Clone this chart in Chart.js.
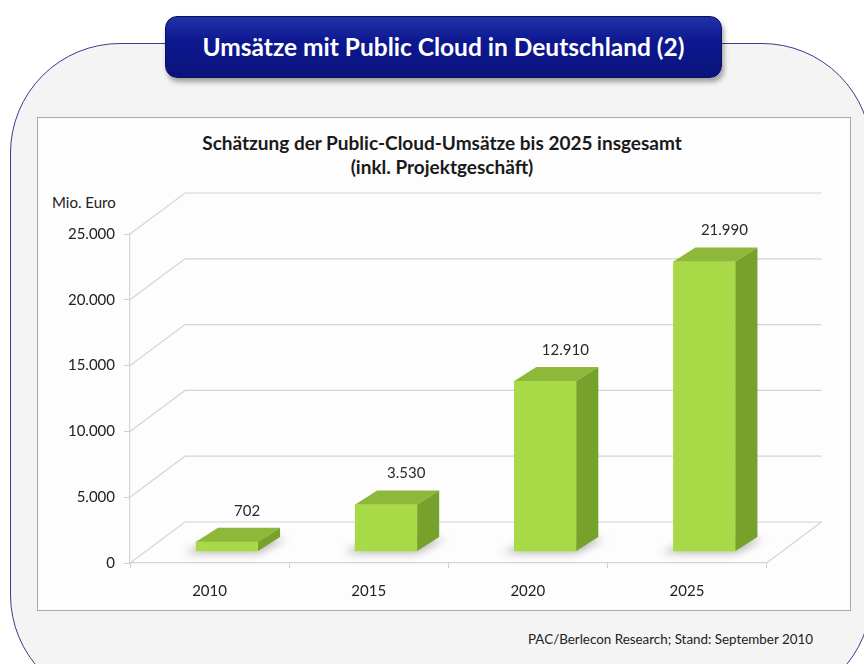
<!DOCTYPE html>
<html>
<head>
<meta charset="utf-8">
<script src="https://cdn.jsdelivr.net/npm/chart.js@4"></script>
<style>
  html, body { margin: 0; padding: 0; background: #fff; }
  body { width: 864px; height: 664px; position: relative; overflow: hidden; font-family: Lato, "Noto Sans", sans-serif; }
  .frame {
    position: absolute; left: 10px; top: 43px; width: 860px; height: 660px;
    border: 1.5px solid #3b3b88; border-radius: 110px; background: #f4f4f4;
  }
  .banner {
    position: absolute; left: 165px; top: 16px; width: 555px; height: 60px;
    border-radius: 12px; background: linear-gradient(#2232a6, #0d1890 40%, #0a137c);
    box-shadow: 2px 4px 5px rgba(0,0,0,0.35); border: 1px solid #0a1060;
    color: #fff; font-weight: bold; font-size: 24.5px; line-height: 60px; text-align: center;
  }
  .panel {
    position: absolute; left: 38px; top: 118px; width: 812px; height: 492px;
    background: #fdfdfd; box-shadow: 0 0 0 1px #a9a9a9;
  }
  .ctitle {
    position: absolute; left: 38px; top: 131px; width: 808px; text-align: center;
    font-weight: bold; font-size: 19px; line-height: 24px; color: #1a1a1a;
  }
  .unit { position: absolute; left: 52px; top: 193px; font-size: 15px; color: #222; }
  .source { position: absolute; left: 528px; top: 631px; font-size: 13.4px; color: #222; }
  canvas { position: absolute; left: 38px; top: 118px; }
</style>
</head>
<body>
<div class="frame"></div>
<div class="banner">Umsätze mit Public Cloud in Deutschland (2)</div>
<div class="panel"></div>
<div class="ctitle">Schätzung der Public-Cloud-Umsätze bis 2025 insgesamt<br>(inkl. Projektgeschäft)</div>
<div class="unit">Mio. Euro</div>
<div class="source">PAC/Berlecon Research; Stand: September 2010</div>
<canvas id="chart" width="812" height="492"></canvas>
<script>
const years = ["2010", "2015", "2020", "2025"]
const revenue = [702, 3530, 12910, 21990]
const yTicks = [0, 5000, 10000, 15000, 20000, 25000]

// depth of the back wall and of the bars
const wallDx = 55, wallDy = 41
const barDx = 22, barDy = 14

const fmt = (v) => String(v).replace(/\B(?=(\d{3})+(?!\d))/g, ".")

const wall3d = {
  id: "wall3d",
  beforeDatasetsDraw(chart) {
    const { ctx, chartArea } = chart
    const y = chart.scales.y
    ctx.save()
    ctx.strokeStyle = "#d4d4d4"
    ctx.lineWidth = 1.2
    yTicks.forEach(v => {
      const py = y.getPixelForValue(v)
      ctx.beginPath()
      ctx.moveTo(chartArea.left, py)
      ctx.lineTo(chartArea.left + wallDx, py - wallDy)
      ctx.lineTo(chartArea.right + wallDx, py - wallDy)
      ctx.stroke()
    })
    // floor right edge
    const b = chartArea.bottom
    ctx.beginPath()
    ctx.moveTo(chartArea.right, b)
    ctx.lineTo(chartArea.right + wallDx, b - wallDy)
    ctx.stroke()
    // shadows of the bars on the floor
    const meta = chart.getDatasetMeta(0)
    meta.data.forEach(bar => {
      const l = bar.x - bar.width / 2
      ctx.save()
      ctx.filter = "blur(4px)"
      ctx.fillStyle = "rgba(90,90,90,0.45)"
      ctx.beginPath()
      ctx.moveTo(l - 12, bar.base + 2)
      ctx.lineTo(l + 20, bar.base - barDy + 2)
      ctx.lineTo(l + bar.width + barDx + 6, bar.base - barDy + 2)
      ctx.lineTo(l + bar.width, bar.base + 2)
      ctx.closePath()
      ctx.fill()
      ctx.restore()
    })
    ctx.restore()
  }
}

const bars3d = {
  id: "bars3d",
  afterDatasetsDraw(chart) {
    const { ctx } = chart
    const meta = chart.getDatasetMeta(0)
    ctx.save()
    meta.data.forEach((bar, i) => {
      const l = bar.x - bar.width / 2
      const r = bar.x + bar.width / 2
      const t = bar.y
      // top face
      ctx.fillStyle = "#8db83a"
      ctx.beginPath()
      ctx.moveTo(l, t)
      ctx.lineTo(l + barDx, t - barDy)
      ctx.lineTo(r + barDx, t - barDy)
      ctx.lineTo(r, t)
      ctx.closePath()
      ctx.fill()
      // side face
      ctx.fillStyle = "#76a22b"
      ctx.beginPath()
      ctx.moveTo(r, t)
      ctx.lineTo(r + barDx, t - barDy)
      ctx.lineTo(r + barDx, bar.base - barDy)
      ctx.lineTo(r, bar.base)
      ctx.closePath()
      ctx.fill()
      // value label
      ctx.fillStyle = "#2a2a2a"
      ctx.font = "15px Lato, 'Noto Sans', sans-serif"
      ctx.textAlign = "center"
      ctx.textBaseline = "middle"
      ctx.fillText(fmt(revenue[i]), bar.x + 20, t - 31)
    })
    ctx.restore()
  }
}

const ctx = document.getElementById("chart").getContext("2d")

new Chart(ctx, {
  type: "bar",
  data: {
    labels: years,
    datasets: [{
      data: revenue.map((v, i) => ({ x: i, y: v })),
      xAxisID: "x2",
      yAxisID: "y2",
      barThickness: 62,
      backgroundColor: "#a8d946",
      borderWidth: 0
    }]
  },
  options: {
    responsive: false,
    animation: false,
    layout: { padding: { left: 0, right: 83.5, top: 116, bottom: 0 } },
    plugins: { legend: { display: false }, tooltip: { enabled: false } },
    scales: {
      x: {
        type: "category",
        offset: true,
        grid: { drawOnChartArea: false, offset: true, tickLength: 5, color: "#cfcfcf" },
        border: { color: "#d4d4d4", width: 1.2 },
        ticks: { color: "#222", padding: 14, font: { size: 15, family: "Lato" } },
        afterFit: s => { s.height = 47 }
      },
      y: {
        min: 0,
        max: 25000,
        afterBuildTicks: s => { s.ticks = yTicks.map(v => ({ value: v })) },
        grid: { drawOnChartArea: false, tickLength: 6, color: "#cfcfcf" },
        border: { color: "#d4d4d4", width: 1.2 },
        ticks: { color: "#222", padding: 9, font: { size: 15, family: "Lato" }, callback: v => fmt(v) },
        afterFit: s => { s.width = 92 }
      },
      x2: { type: "linear", display: false, offset: false, grid: { offset: false }, min: -0.61, max: 3.39 },
      y2: { type: "linear", display: false, min: -912, max: 24088 }
    }
  },
  plugins: [wall3d, bars3d]
})
</script>
</body>
</html>
